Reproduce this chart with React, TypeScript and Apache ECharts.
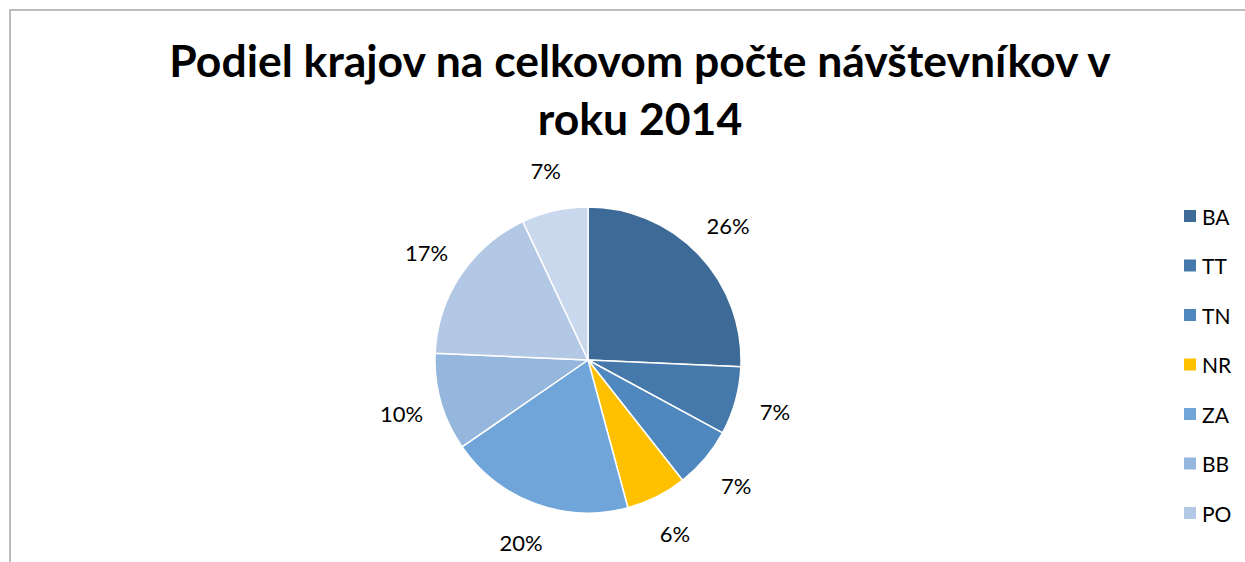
import React, { useEffect, useRef } from "react";
import * as echarts from "echarts";

const regions = ["BA", "TT", "TN", "NR", "ZA", "BB", "PO", "KE"];
const shares = [25.7, 7.2, 6.5, 6.4, 19.6, 10.3, 17.3, 7.0];
const colors = ["#3D6A96", "#4679AB", "#4E88BF", "#FFC000", "#70A5D9", "#95B7DE", "#B3C8E5", "#C9D8ED"];
const legendNames = ["BA", "TT", "TN", "NR", "ZA", "BB", "PO"];
const titleText = "Podiel krajov na celkovom počte návštevníkov v\nroku 2014";

export default function App() {
  const ref = useRef<HTMLDivElement>(null);
  useEffect(() => {
    if (!ref.current) return;
    const chart = echarts.init(ref.current, undefined, { renderer: "svg" });
    const data = regions.map((n, i) => ({ name: n, value: shares[i], itemStyle: { color: colors[i] } }));
    chart.setOption({
      animation: false,
      backgroundColor: "#ffffff",
      textStyle: { fontFamily: "Lato" },
      title: {
        text: titleText,
        left: 635,
        top: 25,
        textAlign: "center",
        textStyle: { fontFamily: "Lato", fontWeight: "bold", fontSize: 44.5, lineHeight: 58, color: "#000" },
      },
      legend: {
        orient: "vertical",
        left: 1177,
        top: 200,
        data: legendNames,
        itemWidth: 14,
        itemHeight: 14,
        itemGap: 27.5,
        icon: "rect",
        textStyle: { fontFamily: "Lato", fontSize: 21, color: "#000", lineHeight: 22 },
      },
      graphic: [
        {
          type: "rect",
          shape: { x: 10, y: 10, width: 1260, height: 600 },
          style: { fill: "none", stroke: "#A6A6A6", lineWidth: 1.5 },
          silent: true,
        },
      ],
      series: [
        {
          type: "pie",
          center: [588, 360],
          radius: [0, 153],
          startAngle: 90,
          clockwise: true,
          label: { show: false },
          labelLine: { show: false },
          itemStyle: { borderColor: "#ffffff", borderWidth: 1.5 },
          emphasis: { disabled: true },
          data,
        },
        {
          type: "pie",
          center: [588, 360],
          radius: [153, 229],
          startAngle: 90,
          clockwise: true,
          silent: true,
          itemStyle: { color: "rgba(0,0,0,0)" },
          label: {
            show: true,
            position: "inside",
            fontFamily: "Lato",
            fontSize: 22,
            color: "#000",
            formatter: (p: any) => Math.round(p.percent) + "%",
          },
          labelLine: { show: false },
          emphasis: { disabled: true },
          data: regions.map((n, i) => ({ name: n, value: shares[i] })),
        },
      ],
    });
    return () => chart.dispose();
  }, []);
  return <div ref={ref} style={{ position: "absolute", left: 0, top: 0, width: 1245, height: 562 }} />;
}
